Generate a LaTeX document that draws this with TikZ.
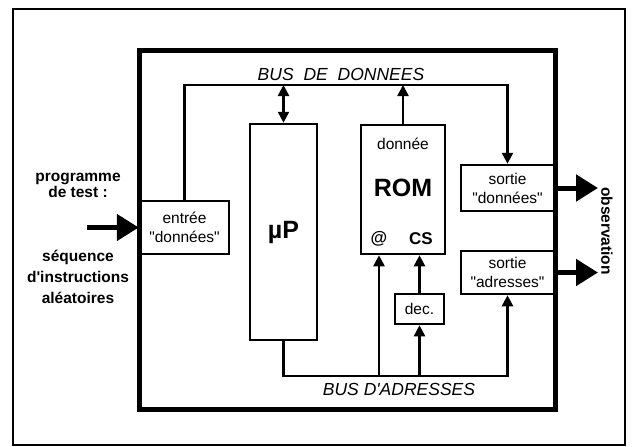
\documentclass[tikz,border=0pt]{standalone}
\usepackage{fontspec}
\setmainfont{Liberation Sans}
\newfontfamily\qfont{Liberation Sans}
\usetikzlibrary{arrows.meta}
\newcommand\myq{{\qfont"}}
\newcommand\myap{{\qfont'}}
\begin{document}
\begin{tikzpicture}[x=1pt,y=-1pt,
  box/.style={draw, line width=2.5pt, inner sep=0pt, align=center,
    font=\fontsize{15.5}{19}\selectfont},
  bus/.style={line width=2.5pt},
  arr/.style={-{Triangle[length=11pt,width=11pt]}},
  darr/.style={{Triangle[length=11pt,width=11pt]}-{Triangle[length=11pt,width=11pt]}},
  big/.style={line width=5pt, -{Triangle[length=22pt,width=26pt]}},
  side/.style={align=center, font=\fontsize{15.5}{21}\bfseries\selectfont},
  buslbl/.style={font=\fontsize{17.5}{20}\itshape\selectfont}]
\useasboundingbox (0,0) rectangle (633,447);
% frames
\draw[line width=1.8pt] (13,9) rectangle (625,445);
\draw[line width=5pt] (139,50) rectangle (555,409);
% boxes
\node[box, minimum width=89pt, minimum height=53pt] (entree) at (184.5,227.5) {entrée\\\myq données\myq};
\node[box, minimum width=67pt, minimum height=216pt, font=\fontsize{25}{28}\bfseries\selectfont] (up) at (283.5,232) {µP};
\node[box, minimum width=84pt, minimum height=129pt] (rom) at (403,189.5) {};
\node[box, minimum width=93pt, minimum height=46pt] (sd) at (507.5,188) {sortie\\\myq données\myq};
\node[box, minimum width=93pt, minimum height=43pt] (sa) at (507.5,272.5) {sortie\\\myq adresses\myq};
\node[box, minimum width=49pt, minimum height=30pt] (dec) at (419.5,309) {dec.};
% ROM inner labels
\node[font=\fontsize{15.5}{18}\selectfont] (romdata) at (403,144) {donnée};
\node[font=\fontsize{25}{28}\bfseries\selectfont] (romname) at (403,188) {ROM};
\node[font=\fontsize{17}{20}\bfseries\selectfont] (romat) at (379,239) {@};
\node[font=\fontsize{17}{20}\bfseries\selectfont] (romcs) at (421,239) {CS};
% bus labels
\node[buslbl] (dbus) at (341,74) {BUS\hspace{5pt} DE\hspace{5pt} DONNEES};
\node[buslbl] (abus) at (399,389) {BUS D\myap ADRESSES};
% data bus
\coordinate (dbR) at (507.5,85);
\coordinate (abR) at (507.5,376);
\draw[bus,arr] (entree.north) |- (dbR) -- (sd.north);
\draw[bus,darr] (up.north |- dbR) -- (up.north);
\draw[bus,arr] (rom.north) -- (rom.north |- dbR);
% address bus
\coordinate (abAt) at (379,376);
\draw[bus,arr] (up.south) |- (abR) -- (sa.south);
\draw[bus,arr] (abAt) -- (abAt |- rom.south);
\draw[bus,arr] (dec.south |- abR) -- (dec.south);
\draw[bus,arr] (dec.north) -- (dec.north |- rom.south);
% side labels
\node[side] (prog) at (78,185) {programme\\[-5pt]de test :};
\node[side] (seq) at (78,277) {séquence\\d\myap instructions\\aléatoires};
\node[font=\fontsize{15.5}{18}\bfseries\selectfont, rotate=-90] (obs) at (607,231) {observation};
% big arrows
\coordinate (inStart) at (87,227.5);
\coordinate (o1) at (598,188);
\coordinate (o2) at (598,272.5);
\draw[big] (inStart) -- (entree.west);
\draw[big] (sd.east) -- (o1);
\draw[big] (sa.east) -- (o2);
\end{tikzpicture}
\end{document}
